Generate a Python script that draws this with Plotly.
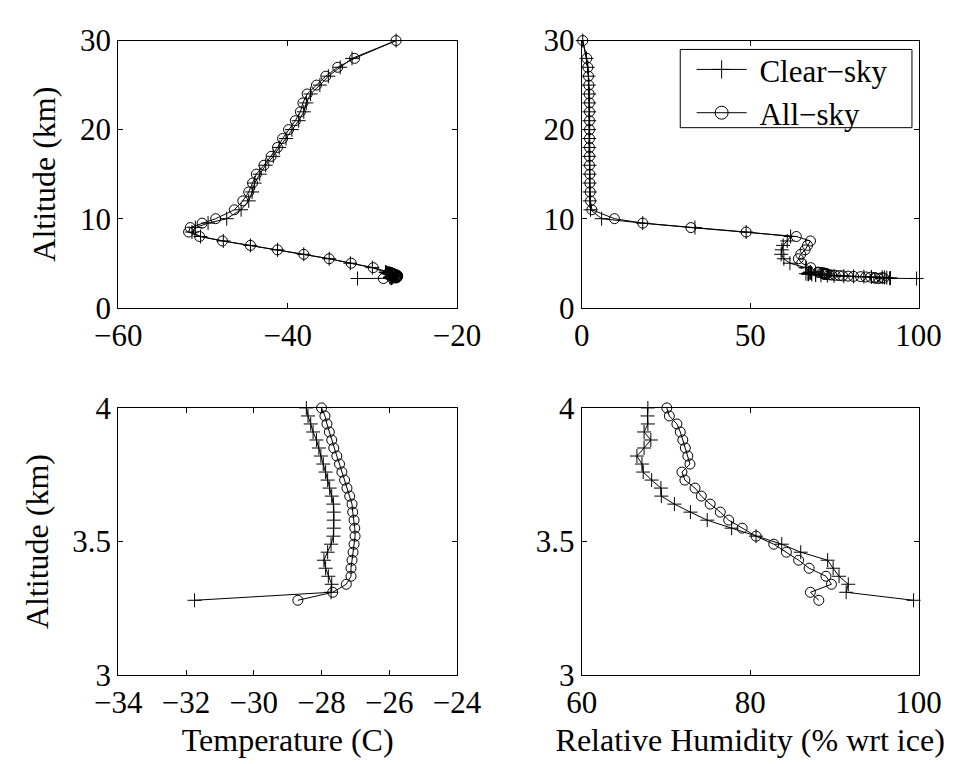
import plotly.graph_objects as go

# ---------------- data ----------------
altitude_km = [30, 28, 27, 26, 25, 24, 23, 22, 21, 20, 19, 18, 17, 16, 15, 14, 13, 12, 11,
               10, 9.5, 9, 8.5, 8, 7.5, 7, 6.5, 6, 5.5, 5, 4.5,
               4.00, 3.97, 3.94, 3.91, 3.88, 3.85, 3.82, 3.79, 3.76, 3.73, 3.70, 3.67, 3.64,
               3.61, 3.58, 3.55, 3.52, 3.49, 3.46, 3.43, 3.40, 3.37, 3.34, 3.31, 3.28]

temp_clear = [-27.2, -32.4, -33.8, -35.2, -36.2, -37.3, -37.8, -38.1, -38.7, -39.5, -40.2, -41.0,
              -41.7, -42.6, -43.3, -43.9, -44.2, -44.6, -45.5,
              -47.2, -49.4, -50.9, -51.3, -50.3, -47.6, -44.4, -41.2, -38.1, -35.1, -32.6, -30.0,
              -28.45, -28.40, -28.32, -28.25, -28.15, -28.08, -28.02, -27.95, -27.88, -27.82,
              -27.76, -27.70, -27.65, -27.64, -27.64, -27.64, -27.65, -27.72, -27.82, -27.93,
              -27.88, -27.80, -27.70, -27.72, -31.75]

temp_all = [-27.2, -32.1, -34.1, -35.5, -36.6, -37.7, -38.2, -38.5, -39.1, -39.9, -40.6, -41.2,
            -41.95, -42.8, -43.7, -44.15, -44.6, -45.3, -46.3,
            -48.5, -50.1, -51.5, -51.7, -50.4, -47.7, -44.4, -41.2, -38.1, -35.1, -32.5, -29.9,
            -28.0, -27.9, -27.84, -27.77, -27.7, -27.64, -27.55, -27.47, -27.4, -27.32,
            -27.25, -27.17, -27.1, -27.08, -27.04, -27.02, -27.01, -27.04, -27.07, -27.1,
            -27.13, -27.13, -27.27, -27.67, -28.7]

rh_clear = [0.3, 1.4, 1.8, 2.0, 2.1, 2.2, 2.2, 2.2, 2.2, 2.2, 2.2, 2.2, 2.2, 2.3, 2.3, 2.3, 2.4,
            2.4, 2.6,
            5.9, 18.1, 33.6, 48.8, 62.0, 61.0, 59.8, 59.4, 59.2, 60.0, 61.8, 66.5,
            67.85, 67.8, 67.85, 67.4, 68.2, 67.4, 66.55, 67.15, 67.3, 68.3, 69.4, 69.45, 71.0,
            72.9, 74.9, 77.8, 80.7, 83.75, 86.0, 89.2, 89.85, 90.55, 91.65, 91.4, 99.4]

rh_all = [0.3, 1.5, 1.8, 2.0, 2.1, 2.2, 2.3, 2.3, 2.3, 2.3, 2.3, 2.3, 2.3, 2.3, 2.4, 2.4, 2.5,
          2.6, 3.0,
          9.7, 18.1, 32.4, 48.8, 63.7, 67.9, 67.0, 66.3, 65.0, 64.3, 65.3, 68.0,
          70.1, 70.4, 71.3, 71.7, 72.0, 72.3, 72.6, 72.85, 71.9, 72.25, 73.45, 74.2, 75.25,
          76.45, 77.45, 79.05, 80.7, 82.8, 84.3, 85.75, 87.0, 89.0, 89.65, 87.15, 88.15]

series_names = ["Clear\u2212sky", "All\u2212sky"]
x_titles = ["", "", "Temperature (C)", "Relative Humidity (% wrt ice)"]
y_title = "Altitude (km)"

# ---------------- figure ----------------
FONT = "Liberation Serif"
fig = go.Figure()

panels = [("x", "y", temp_clear, temp_all),
          ("x2", "y2", rh_clear, rh_all),
          ("x3", "y3", temp_clear, temp_all),
          ("x4", "y4", rh_clear, rh_all)]

for xa, ya, clear, allsky in panels:
    for vals, sym, sz in ((clear, "cross-thin-open", 10), (allsky, "circle-open", 10)):
        fig.add_trace(go.Scatter(x=vals, y=altitude_km, xaxis=xa, yaxis=ya, mode="lines",
                                 line=dict(color="black", width=1), showlegend=False,
                                 hoverinfo="skip"))
        fig.add_trace(go.Scatter(x=vals, y=altitude_km, xaxis=xa, yaxis=ya, mode="markers",
                                 marker=dict(symbol=sym, size=sz, color="black",
                                             line=dict(color="black", width=1)),
                                 cliponaxis=False, showlegend=False, hoverinfo="skip"))

# legend entries
for name, sym in zip(series_names, ["cross-thin-open", "circle-open"]):
    fig.add_trace(go.Scatter(x=[None], y=[None], xaxis="x2", yaxis="y2",
                             name="\u00a0" + name,
                             mode="lines+markers", line=dict(color="black", width=1),
                             marker=dict(symbol=sym, size=13, color="black",
                                         line=dict(color="black", width=1))))

W, H = 974, 764
xd_left = [99.3 / W, 456 / W]
xd_right = [587.3 / W, 942 / W]
yd_top = [1 - 304.7 / H, 1 - 24.7 / H]
yd_bot = [1 - 689.7 / H, 1 - 409.7 / H]

tickfont = dict(family=FONT, size=31, color="black")
titlefont = dict(family=FONT, size=32, color="black")

def ax(domain, rng, tickvals, anchor, title="", ticktext=None, standoff=4):
    d = dict(domain=domain, range=rng, tickvals=tickvals, anchor=anchor,
             showline=True, linecolor="black", linewidth=1, mirror="ticks",
             ticks="inside", ticklen=5, tickcolor="black", tickwidth=1,
             showgrid=False, zeroline=False, tickfont=tickfont, fixedrange=True)
    if ticktext is not None:
        d["ticktext"] = ticktext
    if title:
        d["title"] = dict(text=title, font=titlefont, standoff=standoff)
    return d

fig.update_layout(
    width=W, height=H,
    margin=dict(l=0, r=0, t=0, b=0),
    paper_bgcolor="white", plot_bgcolor="white",
    font=dict(family=FONT, color="black"),
    xaxis=ax(xd_left, [-60, -20], [-60, -40, -20], "y"),
    yaxis=ax(yd_top, [0, 30], [0, 10, 20, 30], "x", y_title, standoff=14),
    xaxis2=ax(xd_right, [0, 100], [0, 50, 100], "y2"),
    yaxis2=ax(yd_top, [0, 30], [0, 10, 20, 30], "x2"),
    xaxis3=ax(xd_left, [-34, -24], [-34, -32, -30, -28, -26, -24], "y3", x_titles[2], standoff=9),
    yaxis3=ax(yd_bot, [3, 4], [3, 3.5, 4], "x3", y_title, ["3", "3.5", "4"], standoff=14),
    xaxis4=ax(xd_right, [60, 100], [60, 80, 100], "y4", x_titles[3], standoff=9),
    yaxis4=ax(yd_bot, [3, 4], [3, 3.5, 4], "x4", "", ["3", "3.5", "4"]),
    shapes=[dict(type="rect", xref="paper", yref="paper",
                 x0=691 / W, x1=935 / W, y0=1 - 116 / H, y1=1 - 34 / H,
                 line=dict(color="black", width=1), fillcolor="white", layer="above")],
    legend=dict(x=703 / W, y=1 - 27 / H, xanchor="left", yanchor="top",
                bgcolor="rgba(0,0,0,0)", borderwidth=0,
                font=dict(family=FONT, size=31, color="black"),
                itemwidth=50, tracegroupgap=0),
    showlegend=True,
)

fig.write_html("out.html")
